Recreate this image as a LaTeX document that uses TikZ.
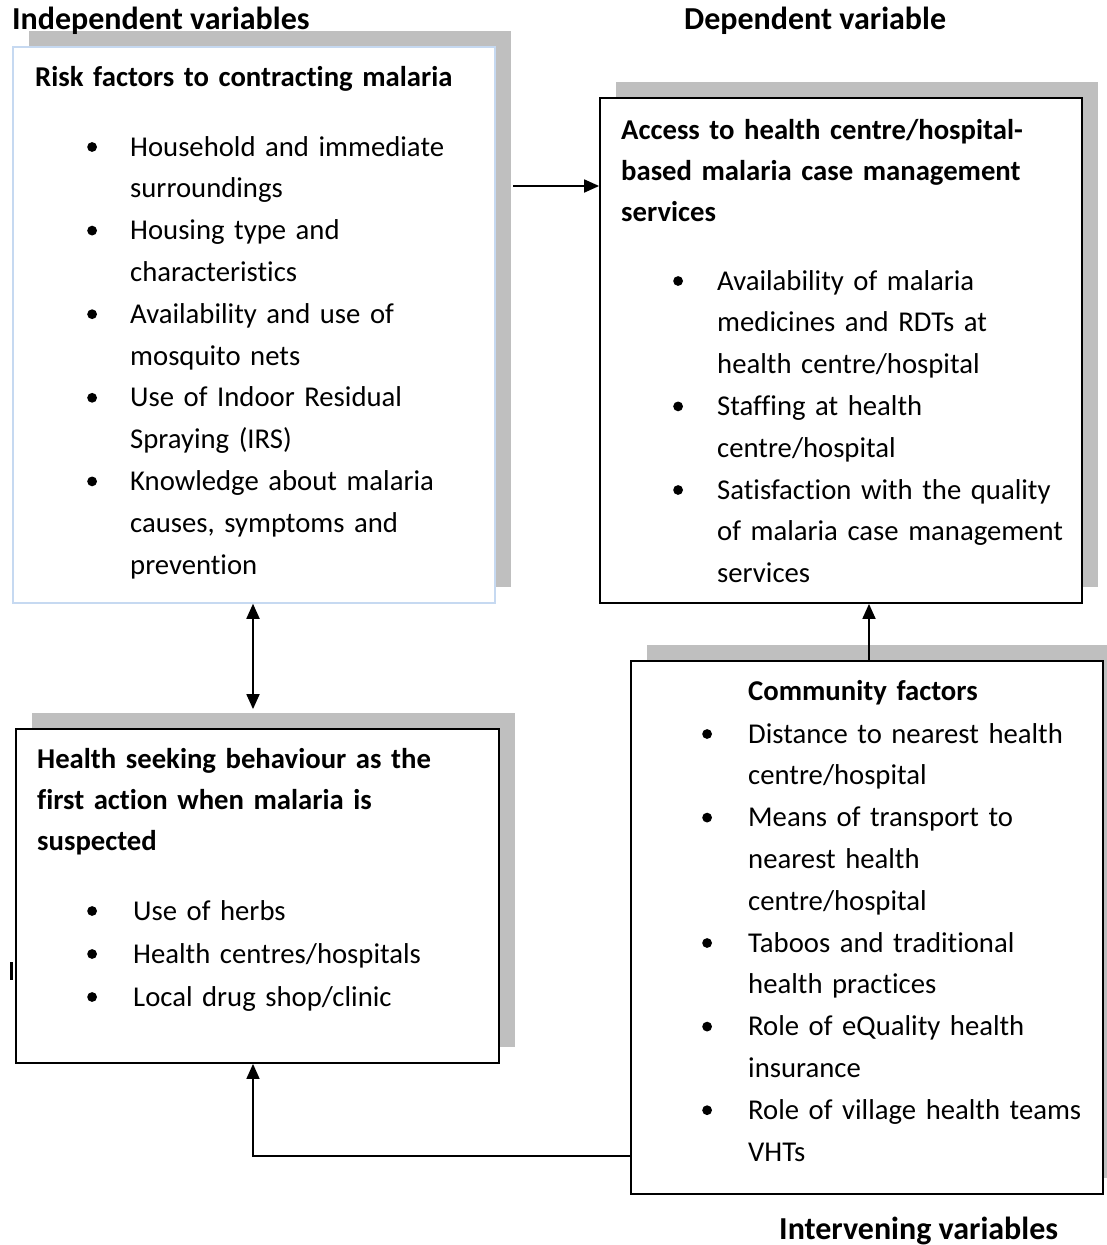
\documentclass[tikz,border=0pt]{standalone}
\usepackage{fontspec}
\setmainfont{Carlito}[Ligatures=NoCommon]
\usetikzlibrary{arrows.meta,shadows}
\definecolor{shgray}{RGB}{191,191,191}
\definecolor{lblue}{RGB}{198,217,241}
\newcommand\bdot{\tikz[baseline=0pt]\fill (0pt,9pt) circle[radius=4.9pt];}
\newcommand\bitem[2]{\noindent\llap{\bdot\hspace*{#1}}#2\par}
\begin{document}
\begin{tikzpicture}[x=1pt,y=-1pt,
  box/.style={draw=black,line width=1.8pt,fill=white,inner sep=0pt,
    drop shadow={shadow xshift=16pt,shadow yshift=16pt,fill=shgray,opacity=1}},
  lst/.style={anchor=base west,inner sep=0pt,font=\fontsize{28.7}{41.8}\selectfont},
  ttl/.style={anchor=base west,inner sep=0pt,font=\fontsize{28.7}{41}\selectfont\bfseries},
  hdr/.style={anchor=base west,inner sep=0pt,font=\fontsize{32}{38}\selectfont\bfseries},
  arr/.style={line width=1.8pt,-{Triangle[length=15pt,width=13pt]}},
  dbl/.style={line width=1.8pt,{Triangle[length=15pt,width=13pt]}-{Triangle[length=15pt,width=13pt]}}]
\useasboundingbox (0,0) rectangle (1107,1245);
\fill[white] (0,0) rectangle (1107,1245);

% boxes
\node[box,draw=lblue,line width=1.5pt,minimum width=482pt,minimum height=556pt] (b1) at (254,325) {};
\node[box,minimum width=482pt,minimum height=505pt] (b2) at (841,350.5) {};
\node[box,minimum width=483pt,minimum height=334pt] (b3) at (257.5,896) {};
\node[box,minimum width=472pt,minimum height=533pt] (b4) at (867,927.5) {};

% headers
\node[hdr] (h1) at (12,29) {Independent variables};
\node[hdr] (h2) at (684,29) {Dependent variable};
\node[hdr] (h3) at (779,1239) {Intervening variables};

% box 1
\node[ttl,text width=460pt] (t1) at (35,86) {Risk factors to contracting malaria};
\node[lst,text width=360pt] (l1) at (130,156) {%
\bitem{33.2pt}{Household and immediate\newline surroundings}%
\bitem{33.2pt}{Housing type and\newline characteristics}%
\bitem{33.2pt}{Availability and use of\newline mosquito nets}%
\bitem{33.2pt}{Use of Indoor Residual\newline Spraying (IRS)}%
\bitem{33.2pt}{Knowledge about malaria\newline causes, symptoms and\newline prevention}};

% box 2
\node[ttl,text width=450pt] (t2) at (621,139) {Access to health centre/hospital-\newline based malaria case management\newline services};
\node[lst,text width=360pt] (l2) at (717,290) {%
\bitem{34.2pt}{Availability of malaria\newline medicines and RDTs at\newline health centre/hospital}%
\bitem{34.2pt}{Staffing at health\newline centre/hospital}%
\bitem{34.2pt}{Satisfaction with the quality\newline of malaria case management\newline services}};

% box 3
\node[ttl,text width=450pt] (t3) at (37,768) {Health seeking behaviour as the\newline first action when malaria is\newline suspected};
\node[lst,font=\fontsize{28.7}{43}\selectfont,text width=360pt] (l3) at (133,920) {%
\bitem{36.2pt}{Use of herbs}%
\bitem{36.2pt}{Health centres/hospitals}%
\bitem{36.2pt}{Local drug shop/clinic}};

% box 4
\node[ttl,text width=340pt] (t4) at (748,700) {Community factors};
\node[lst,text width=350pt] (l4) at (748,743) {%
\bitem{36.2pt}{Distance to nearest health\newline centre/hospital}%
\bitem{36.2pt}{Means of transport to\newline nearest health\newline centre/hospital}%
\bitem{36.2pt}{Taboos and traditional\newline health practices}%
\bitem{36.2pt}{Role of eQuality health\newline insurance}%
\bitem{36.2pt}{Role of village health teams\newline VHTs}};

% stray mark
\fill (10,962) rectangle (13,980);

% connectors
\coordinate (a1) at (513,186);
\draw[arr] (a1) -- (a1 -| b2.west);
\draw[dbl,shorten >=19pt] ([xshift=-1pt]b1.south) -- ([xshift=-1pt]b1.south |- b3.north);
\draw[arr] ([xshift=2pt]b4.north) -- ([xshift=2pt]b4.north |- b2.south);
\coordinate (c1) at (0,1156);
\draw[arr,line width=1.5pt] (b4.west |- c1) -| ([xshift=-4.5pt]b3.south);
\end{tikzpicture}
\end{document}
